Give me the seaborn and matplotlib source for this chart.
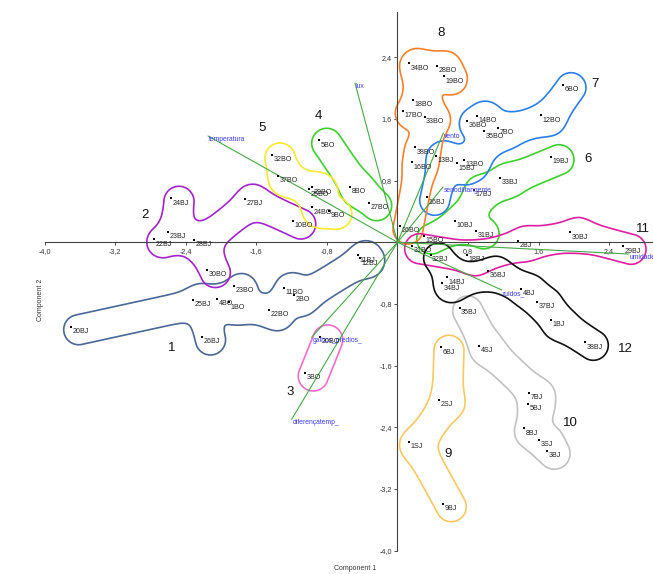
import numpy as np
import pandas as pd
import matplotlib
matplotlib.use("Agg")
import matplotlib.pyplot as plt
import seaborn as sns

# sample scores (Component 1, Component 2) and hand-made cluster number
labels = ["20BJ", "25BJ", "26BJ", "4BO", "1BO", "23BO", "11BO", "2BO", "22BO", "11BJ", "12BJ",
          "24BJ", "23BJ", "22BJ", "28BJ", "30BO", "27BJ", "10BO",
          "20BO", "3BO",
          "5BO", "8BO", "27BO",
          "32BO", "37BO", "29BO", "25BO", "24BO", "9BO",
          "19BJ", "33BJ", "17BJ", "10BJ", "31BJ", "15BO",
          "6BO", "12BO", "14BO", "36BO", "35BO", "7BO", "13BO", "15BJ", "16BJ", "13BJ",
          "34BO", "28BO", "19BO", "18BO", "17BO", "33BO", "38BO", "16BO", "26BO",
          "6BJ", "2SJ", "1SJ", "9BJ",
          "35BJ", "4SJ", "7BJ", "5BJ", "8BJ", "3SJ", "3BJ",
          "31BO", "18BJ", "2BJ", "30BJ", "29BJ",
          "32BJ", "36BJ", "14BJ", "34BJ", "4BJ", "37BJ", "1BJ", "38BJ"]
comp1 = [-3.705, -2.313, -2.211, -2.043, -1.907, -1.857, -1.287, -1.177, -1.457, -0.451, -0.425,
         -2.568, -2.605, -2.761, -2.311, -2.156, -1.732, -1.188,
         -0.882, -1.046,
         -0.893, -0.535, -0.327,
         -1.423, -1.355, -0.973, -1.003, -0.966, -0.780,
         1.740, 1.162, 0.864, 0.649, 0.890, 0.297,
         1.876, 1.624, 0.901, 0.785, 0.984, 1.143, 0.751, 0.678, 0.331, 0.437,
         0.134, 0.444, 0.527, 0.179, 0.059, 0.308, 0.195, 0.168, 0.028,
         0.493, 0.474, 0.134, 0.519,
         0.705, 0.927, 1.491, 1.483, 1.438, 1.601, 1.692,
         0.161, 0.791, 1.370, 1.959, 2.557,
         0.376, 1.023, 0.565, 0.508, 1.400, 1.582, 1.744, 2.129]
comp2 = [-1.095, -0.748, -1.228, -0.731, -0.778, -0.563, -0.589, -0.684, -0.878, -0.171, -0.208,
         0.571, 0.137, 0.039, 0.030, -0.353, 0.562, 0.276,
         -1.228, -1.695,
         1.323, 0.721, 0.514,
         1.132, 0.864, 0.713, 0.685, 0.454, 0.406,
         1.110, 0.838, 0.682, 0.280, 0.150, 0.082,
         2.044, 1.647, 1.638, 1.577, 1.440, 1.482, 1.067, 1.025, 0.584, 1.123,
         2.322, 2.290, 2.153, 1.846, 1.707, 1.625, 1.232, 1.038, 0.211,
         -1.362, -2.042, -2.590, -3.390,
         -0.852, -1.341, -1.951, -2.093, -2.412, -2.564, -2.707,
         -0.044, -0.165, 0.021, 0.130, -0.052,
         -0.165, -0.372, -0.454, -0.532, -0.602, -0.774, -1.008, -1.297]
cluster = [1] * 11 + [2] * 7 + [3] * 2 + [4] * 3 + [5] * 6 + [6] * 6 + [7] * 10 + \
          [8] * 9 + [9] * 4 + [10] * 7 + [11] * 5 + [12] * 8

# variable loadings (biplot arrows)
var_names = ["lux", "temperatura", "vento", "senodiltangente", "umidade",
             "ruidos_", "galhos_predios_", "diferençatemp_"]
var_c1 = [-0.482, -2.148, 0.520, 0.516, 2.625, 1.182, -0.973, -1.200]
var_c2 = [2.066, 1.379, 1.418, 0.717, -0.152, -0.619, -1.232, -2.296]

# hand-written cluster numbers
cluster_ids = list(range(1, 13))
cluster_tag_x = [-2.557, -2.862, -1.219, -0.901, -1.536, 2.160, 2.240, 0.493, 0.573, 1.956, 2.780, 2.579]
cluster_tag_y = [-1.374, 0.354, -1.940, 1.637, 1.480, 1.080, 2.050, 2.715, -2.746, -2.343, 0.170, -1.384]

ticks = [-4.0, -3.2, -2.4, -1.6, -0.8, 0.8, 1.6, 2.4]

colors = {1: "#4a6896", 2: "#a324cc", 3: "#f46ccc", 4: "#3ccf2c", 5: "#f7ea2e",
          6: "#3ccf2c", 7: "#2c7fe6", 8: "#f7802a", 9: "#f9c860", 10: "#c2c2c2",
          11: "#de1fa0", 12: "#111111"}

df = pd.DataFrame({"label": labels, "c1": comp1, "c2": comp2, "cluster": cluster})

sns.set_theme(style="white")
plt.rcParams["font.family"] = ["Liberation Sans", "DejaVu Sans"]

PX, PY = 88.2, 77.1          # pixels per unit on each axis
x0, y0 = 397.5, 242.3        # pixel position of origin
W, H = 653, 574

fig = plt.figure(figsize=(W / 100, H / 100), dpi=100)
ax = fig.add_axes([0, 0, 1, 1])
ax.set_xlim(-x0 / PX, (W - x0) / PX)
ax.set_ylim((y0 - H) / PY, y0 / PY)

# axes drawn through the origin
for s in ["top", "right"]:
    ax.spines[s].set_visible(False)
ax.spines["left"].set_position(("data", 0))
ax.spines["bottom"].set_position(("data", 0))
ax.spines["left"].set_bounds(-4.0, (y0 - 12) / PY)
ax.spines["bottom"].set_bounds(-4.0, (W - x0) / PX)
for s in ["left", "bottom"]:
    ax.spines[s].set_color("#444444")
    ax.spines[s].set_linewidth(0.8)
ax.set_xticks(ticks)
ax.set_yticks(ticks)
ax.set_xticklabels([f"{t:.1f}".replace(".", ",") for t in ticks])
ax.set_yticklabels([f"{t:.1f}".replace(".", ",") for t in ticks])
ax.tick_params(direction="out", length=2.5, width=0.6, labelsize=5.2, pad=1.5,
               colors="#333333", bottom=True, left=True)
ax.grid(False)

# smooth envelopes around each cluster: soft distance to minimum spanning tree
gx = np.linspace(-x0 / PX, (W - x0) / PX, 760)
gy = np.linspace((y0 - H) / PY, y0 / PY, 660)
GX, GY = np.meshgrid(gx, gy)
Xp, Yp = GX * PX, GY * PY


def seg_dist(a, b):
    ab = b - a
    L = ab @ ab
    t = 0.0 if L == 0 else np.clip(((Xp - a[0]) * ab[0] + (Yp - a[1]) * ab[1]) / L, 0, 1)
    return np.hypot(Xp - a[0] - t * ab[0], Yp - a[1] - t * ab[1])


def mst(pts):
    n = len(pts)
    inside, edges = [0], []
    while len(inside) < n:
        best = None
        for i in inside:
            for j in range(n):
                if j in inside:
                    continue
                d = np.hypot(*(pts[i] - pts[j]))
                if best is None or d < best[0]:
                    best = (d, i, j)
        edges.append((best[1], best[2]))
        inside.append(best[2])
    return edges


k = 4.0
for cid, g in df.groupby("cluster"):
    pts = np.column_stack([g["c1"] * PX + 8, g["c2"] * PY - 3])
    edges = mst(pts) if len(pts) > 1 else [(0, 0)]
    acc = np.full(Xp.shape, -np.inf)
    for i, j in edges:
        acc = np.logaddexp(acc, -seg_dist(pts[i], pts[j]) / k)
    D = -k * acc
    ax.contour(GX, GY, D, levels=[15], colors=[colors[cid]], linewidths=1.2)

# loadings
for name, vx, vy in zip(var_names, var_c1, var_c2):
    ax.plot([0, vx], [0, vy], color="#46a846", lw=0.8, zorder=3)
    ax.annotate(name, (vx, vy), xytext=(0.6, -2.4), textcoords="offset points",
                fontsize=4.9, color="#3b3bff", ha="left", va="center", zorder=5)

# sample points and labels
sns.scatterplot(data=df, x="c1", y="c2", color="black", s=4, linewidth=0,
                marker="s", ax=ax, zorder=4, legend=False)
for lab, x, y in zip(labels, comp1, comp2):
    ax.annotate(lab, (x, y), xytext=(1.1, -3.5), textcoords="offset points",
                fontsize=5.1, color="#222222", ha="left", va="center", zorder=5)
ax.set_xlabel("")
ax.set_ylabel("")

for cid, tx, ty in zip(cluster_ids, cluster_tag_x, cluster_tag_y):
    ax.text(tx, ty, str(cid), fontsize=9.5, ha="center", va="center", color="#111111")

fig.text(355 / W, 1 - 568 / H, "Component 1", fontsize=5.0, ha="center", va="center", color="#333333")
fig.text(40 / W, 1 - 300 / H, "Component 2", fontsize=5.0, ha="center", va="center",
         rotation=90, color="#333333")

fig.savefig("out.png", dpi=100)
